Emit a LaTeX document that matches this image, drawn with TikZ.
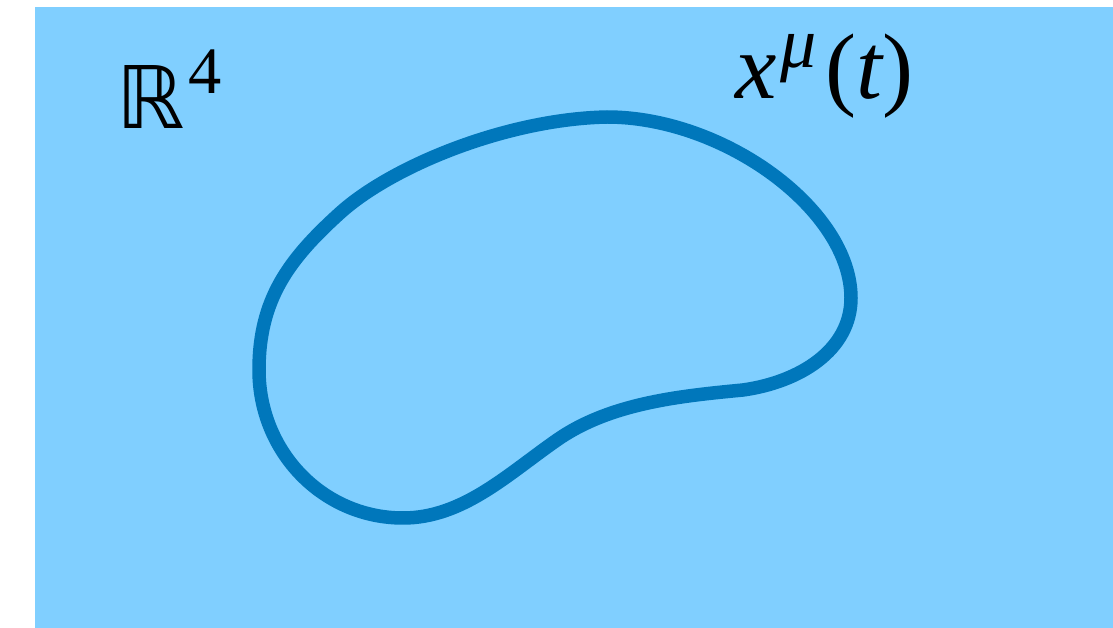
\documentclass[tikz,border=0pt]{standalone}
\usepackage{fontspec}
\setmainfont{Liberation Serif}
\newfontfamily\dejavu{DejaVu Sans}
\definecolor{ciel}{RGB}{128,207,255}
\definecolor{bleulacet}{RGB}{0,119,187}
\begin{document}
\begin{tikzpicture}[x=0.02cm, y=-0.02cm]
	% Styles du fond et de la courbe
	\tikzset{ fond/.style={fill=ciel}, courbe/.style={draw=bleulacet, line width=0.27cm, line join=round} }
	\useasboundingbox (0,0) rectangle (1113,628);
	\fill[fond] (35,7) rectangle (1113,628);
	\draw[courbe] (259,370)
		.. controls (259,300) and (288,260) .. (340,213)
		.. controls (392,166) and (507,119) .. (607,117)
		.. controls (724,117) and (851,210) .. (851,298)
		.. controls (851,350) and (800,382) .. (743,390)
		.. controls (680,396) and (610,403) .. (557,440)
		.. controls (508,474) and (463,518) .. (403,518)
		.. controls (323,518) and (259,452) .. cycle;
	\node[anchor=base west, inner sep=0pt] (espace) at (116,129)
		{\resizebox{!}{1.26cm}{\dejavu ℝ}\kern2pt\raisebox{0.72cm}{\fontsize{37.8}{40}\selectfont 4}};
	\node[anchor=base west, inner sep=0pt] (lacet) at (735,99)
		{\fontsize{53}{56}\selectfont\itshape x\kern2pt\raisebox{18pt}{\fontsize{41}{42}\selectfont μ}\kern5pt\upshape(\itshape t\upshape)};
\end{tikzpicture}
\end{document}
